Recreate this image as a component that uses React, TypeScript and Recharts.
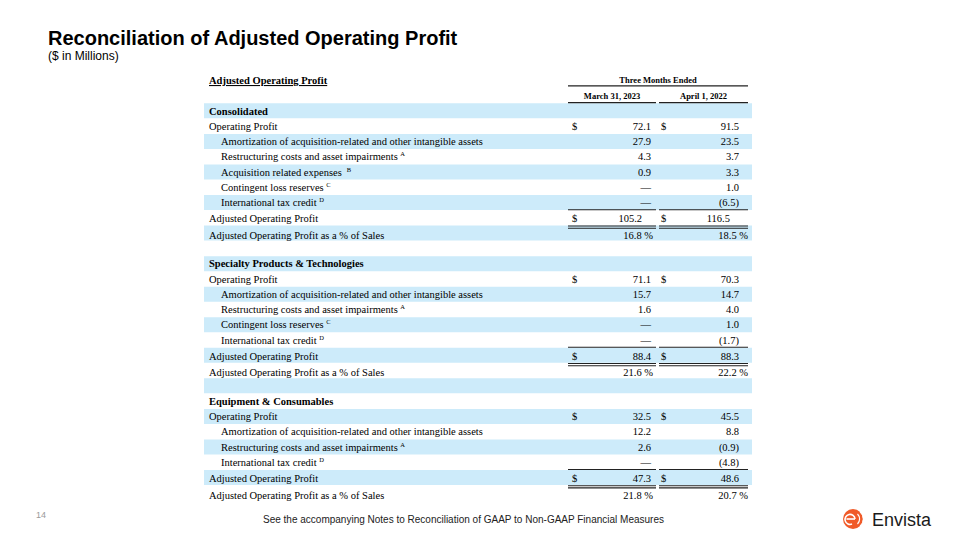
import React from 'react';
import { ComposedChart, Bar, XAxis, YAxis } from 'recharts';

if (typeof document !== 'undefined') {
  document.body.style.margin = '0';
}

// ---------- data ----------
const rowLabels: string[] = [
  'Adjusted Operating Profit',
  '',
  'Consolidated',
  'Operating Profit',
  'Amortization of acquisition-related and other intangible assets',
  'Restructuring costs and asset impairments',
  'Acquisition related expenses',
  'Contingent loss reserves',
  'International tax credit',
  'Adjusted Operating Profit',
  'Adjusted Operating Profit as a % of Sales',
  '',
  'Specialty Products & Technologies',
  'Operating Profit',
  'Amortization of acquisition-related and other intangible assets',
  'Restructuring costs and asset impairments',
  'Contingent loss reserves',
  'International tax credit',
  'Adjusted Operating Profit',
  'Adjusted Operating Profit as a % of Sales',
  '',
  'Equipment & Consumables',
  'Operating Profit',
  'Amortization of acquisition-related and other intangible assets',
  'Restructuring costs and asset impairments',
  'International tax credit',
  'Adjusted Operating Profit',
  'Adjusted Operating Profit as a % of Sales',
];

const footnoteMarks: string[] = [
  '', '', '', '', '', 'A', 'B', 'C', 'D', '', '', '',
  '', '', '', 'A', 'C', 'D', '', '', '',
  '', '', '', 'A', 'D', '', '',
];

const rowTypes: string[] = [
  'h1', 'h2',
  'sec', 'op', 'item', 'item', 'item', 'item', 'item', 'total', 'pct', 'blank',
  'sec', 'op', 'item', 'item', 'item', 'item', 'total', 'pct', 'blank',
  'sec', 'op', 'item', 'item', 'item', 'total', 'pct',
];

const headerTitle = 'Three Months Ended';
const periodLabels: string[] = ['March 31, 2023', 'April 1, 2022'];

const march2023: (number | null)[] = [
  null, null,
  null, 72.1, 27.9, 4.3, 0.9, 0, 0, 105.2, 16.8, null,
  null, 71.1, 15.7, 1.6, 0, 0, 88.4, 21.6, null,
  null, 32.5, 12.2, 2.6, 0, 47.3, 21.8,
];

const april2022: (number | null)[] = [
  null, null,
  null, 91.5, 23.5, 3.7, 3.3, 1.0, -6.5, 116.5, 18.5, null,
  null, 70.3, 14.7, 4.0, 1.0, -1.7, 88.3, 22.2, null,
  null, 45.5, 8.8, -0.9, -4.8, 48.6, 20.7,
];

// shaded rows of the table body (alternating bands)
const shaded: number[] = rowTypes.map((_, i) => (i >= 2 && i % 2 === 0 ? 1 : 0));

const data = rowLabels.map((label, i) => ({ row: 'r' + i, label, band: shaded[i] }));

// ---------- layout ----------
const TOP = 72.8;
const BOTTOM = 39.4;
const LEFT = 203;
const RIGHT = 208;
const ROW_H = (540 - TOP - BOTTOM) / rowLabels.length;

const FONT = '"Liberation Serif", "Times New Roman", serif';
const SANS = '"Liberation Sans", Arial, sans-serif';

const COL1 = { dollar: 572, end: 651, lineStart: 568, lineEnd: 656, center: 612 };
const COL2 = { dollar: 661, end: 739, lineStart: 659, lineEnd: 748, center: 703.5 };

const fmt = (v: number | null): string => {
  if (v === null) return '';
  if (v === 0) return '\u2014';
  if (v < 0) return '(' + Math.abs(v).toFixed(1) + ')';
  return v.toFixed(1);
};

const RowTick = (props: any) => {
  const { y, payload } = props;
  const i = Number(String(payload.value).slice(1));
  const type = rowTypes[i];
  const label = rowLabels[i];
  const mark = footnoteMarks[i];
  const base = y + 3.6 + (type === 'pct' ? 2 : type === 'total' ? 0.8 : 0);
  const items: React.ReactNode[] = [];

  if (type === 'h1') {
    items.push(
      <text key="l" x={209} y={base} fontFamily={FONT} fontSize={10.5} fontWeight="bold" textDecoration="underline" fill="#000">
        {label}
      </text>,
    );
    items.push(
      <text key="h" x={(COL1.lineStart + COL2.lineEnd) / 2} y={y + 2.5} textAnchor="middle" fontFamily={FONT} fontSize={8.5} fontWeight="bold" fill="#000">
        {headerTitle}
      </text>,
    );
    items.push(<line key="hl" x1={COL1.lineStart} x2={COL2.lineEnd} y1={y + 5.5} y2={y + 5.5} stroke="#222" strokeWidth={1.3} />);
    return <g>{items}</g>;
  }
  if (type === 'h2') {
    [COL1, COL2].forEach((c, k) => {
      items.push(
        <text key={'p' + k} x={c.center} y={y + 3} textAnchor="middle" fontFamily={FONT} fontSize={8.5} fontWeight="bold" fill="#000">
          {periodLabels[k]}
        </text>,
      );
      items.push(<line key={'pl' + k} x1={c.lineStart} x2={c.lineEnd} y1={y + 7} y2={y + 7} stroke="#222" strokeWidth={1.3} />);
    });
    return <g>{items}</g>;
  }
  if (type === 'blank') return <g />;

  const x = type === 'item' ? 221 : 209;
  items.push(
    <text key="l" x={x} y={base} fontFamily={FONT} fontSize={10.5} fontWeight={type === 'sec' ? 'bold' : 'normal'} fill="#000">
      {label}
      {mark ? (
        <tspan dx={mark === 'B' ? 5 : 2.5} dy={-4} fontSize={6.5}>
          {mark}
        </tspan>
      ) : null}
    </text>,
  );

  const vals = [march2023[i], april2022[i]];
  [COL1, COL2].forEach((c, k) => {
    const v = vals[k];
    if (type === 'op' || type === 'total') {
      items.push(
        <text key={'d' + k} x={c.dollar} y={base} fontFamily={FONT} fontSize={10.5} fill="#000">
          $
        </text>,
      );
    }
    if (v !== null) {
      if (type === 'pct') {
        items.push(
          <text key={'v' + k} x={k === 0 ? 653 : 748} y={base} textAnchor="end" fontFamily={FONT} fontSize={10.5} fill="#000">
            {fmt(v) + ' %'}
          </text>,
        );
      } else {
        const end = type === 'total' && i === 9 ? c.end - 9 : c.end;
        items.push(
          <text key={'v' + k} x={end} y={base} textAnchor="end" fontFamily={FONT} fontSize={10.5} fill="#000">
            {fmt(v)}
          </text>,
        );
      }
    }
    if (type === 'total') {
      const top = y - ROW_H / 2;
      const bot = y + ROW_H / 2;
      items.push(<line key={'t' + k} x1={c.lineStart} x2={c.lineEnd} y1={top - 0.5} y2={top - 0.5} stroke="#222" strokeWidth={1.1} />);
      items.push(<line key={'b1' + k} x1={c.lineStart} x2={c.lineEnd} y1={bot + 0.4} y2={bot + 0.4} stroke="#222" strokeWidth={1.1} />);
      items.push(<line key={'b2' + k} x1={c.lineStart} x2={c.lineEnd} y1={bot + 2.6} y2={bot + 2.6} stroke="#222" strokeWidth={1.1} />);
    }
  });
  return <g>{items}</g>;
};

const EnvistaLogo = () => (
  <svg width={100} height={30} style={{ position: 'absolute', left: 840, top: 504 }}>
    <circle cx={13} cy={15} r={10} fill="#F05A28" />
    <path d="M6.5 15 H15" stroke="#fff" strokeWidth={1.6} />
    <path d="M15 15 A5 5 0 1 0 12 20" stroke="#fff" strokeWidth={1.6} fill="none" />
    <path d="M17.5 10 A7 7 0 0 1 17.5 20" stroke="#fff" strokeWidth={1.2} fill="none" />
    <path d="M20 8 A9 9 0 0 1 20 22" stroke="#fff" strokeWidth={1} fill="none" />
    <text x={32} y={21.5} fontFamily={SANS} fontSize={18} fill="#1a1a1a">
      Envista
    </text>
  </svg>
);

export default function App() {
  return (
    <div style={{ position: 'relative', width: 960, height: 540, background: '#fff', overflow: 'hidden' }}>
      <div style={{ position: 'absolute', left: 48, top: 27, fontFamily: SANS, fontWeight: 'bold', fontSize: 20, color: '#000', lineHeight: '22px', whiteSpace: 'nowrap' }}>
        Reconciliation of Adjusted Operating Profit
      </div>
      <div style={{ position: 'absolute', left: 48, top: 49, fontFamily: SANS, fontSize: 12, color: '#000', lineHeight: '14px', whiteSpace: 'nowrap' }}>
        ($ in Millions)
      </div>
      <div style={{ position: 'absolute', left: 0, top: 0 }}>
        <ComposedChart
          layout="vertical"
          width={960}
          height={540}
          data={data}
          margin={{ top: TOP, right: RIGHT, bottom: BOTTOM, left: LEFT }}
          barCategoryGap={0}
        >
          <XAxis type="number" domain={[0, 1]} hide />
          <YAxis
            type="category"
            dataKey="row"
            width={1}
            axisLine={false}
            tickLine={false}
            interval={0}
            tick={RowTick}
          />
          <Bar dataKey="band" fill="#CDEBFA" isAnimationActive={false} />
        </ComposedChart>
      </div>
      <div style={{ position: 'absolute', left: 36, top: 510, fontFamily: SANS, fontSize: 9, color: '#9a9a9a' }}>14</div>
      <div style={{ position: 'absolute', left: 0, width: 927, top: 514, textAlign: 'center', fontFamily: SANS, fontSize: 10, color: '#222', whiteSpace: 'nowrap' }}>
        See the accompanying Notes to Reconciliation of GAAP to Non-GAAP Financial Measures
      </div>
      <EnvistaLogo />
    </div>
  );
}
